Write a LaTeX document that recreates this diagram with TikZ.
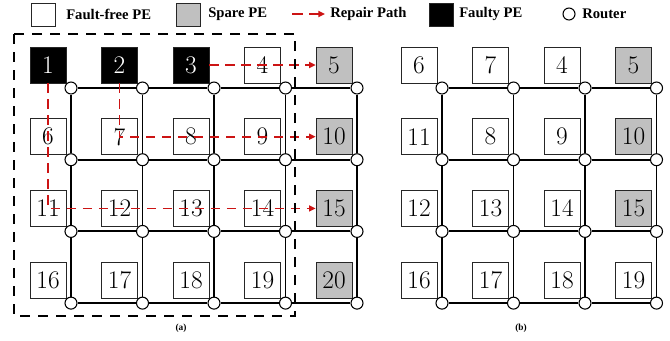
\documentclass[tikz,border=0pt]{standalone}
\usepackage{fontspec}
\newfontfamily\legendfont{Liberation Serif}
\usetikzlibrary{positioning,arrows.meta}
\pgfdeclarelayer{mesh}
\pgfsetlayers{mesh,main}
\definecolor{sparegray}{RGB}{192,192,192}
\definecolor{repairred}{RGB}{204,20,20}

\tikzset{
  pe/.style={draw=black!85, line width=0.5pt, fill=white, minimum size=27pt,
    inner sep=0pt, font=\fontsize{19}{19}\selectfont},
  spare/.style={pe, fill=sparegray},
  faulty/.style={pe, fill=black, text=white},
  router/.style={circle, draw, fill=white, line width=0.8pt, minimum size=9pt, inner sep=0pt},
  link/.style={line width=1.4pt},
  repair/.style={repairred, line width=1.2pt, dash pattern=on 7pt off 5pt,
    -{Triangle[length=5pt,width=4.5pt]}},
  faultframe/.style={line width=2.2pt, dash pattern=on 7.5pt off 6pt},
  legendtxt/.style={font=\legendfont\bfseries\fontsize{11}{11}\selectfont, anchor=west, inner sep=0pt},
  sublabel/.style={font=\legendfont\bfseries\fontsize{7}{7}\selectfont, inner sep=0pt}
}

\begin{document}
\begin{tikzpicture}[x=0.75pt, y=-0.75pt]
  \useasboundingbox (0,0) rectangle (670,340);

  % ── Legend ──
  \node[pe, minimum width=18pt, minimum height=17pt] (key-free) at (43,14.5) {};
  \node[legendtxt] (txt-free) at (66,14) {Fault-free PE};
  \node[spare, minimum width=18pt, minimum height=17pt] (key-spare) at (188.5,14.5) {};
  \node[legendtxt] (txt-spare) at (208,14) {Spare PE};
  \coordinate (key-repair-a) at (292,14);
  \coordinate (key-repair-b) at (325,14);
  \draw[repair, dash pattern=on 8pt off 5pt] (key-repair-a) -- (key-repair-b);
  \node[legendtxt] (txt-repair) at (330,14) {Repair Path};
  \node[faulty, minimum width=18pt, minimum height=17pt] (key-faulty) at (441,14.5) {};
  \node[legendtxt] (txt-faulty) at (459,14) {Faulty PE};
  \node[router] (key-router) at (569,14) {};
  \node[legendtxt] (txt-router) at (582,14) {Router};

  % ── (a) mesh with faulty PEs ──
  \foreach \r in {1,...,4} {
    \foreach \c in {1,...,5} {
      \pgfmathtruncatemacro\num{5*(\r-1)+\c}
      \ifnum\c=5 \def\kind{spare}\else\ifnum\num<4 \def\kind{faulty}\else\def\kind{pe}\fi\fi
      \node[\kind] (pa-\r-\c) at ({48+71.5*(\c-1)},{65+71.7*(\r-1)}) {\num};
      \node[router] (ra-\r-\c) at ({71+71.5*(\c-1)},{88+71.7*(\r-1)}) {};
    }
  }

  % ── (b) mesh after repair ──
  \foreach \r/\row in {1/{6,7,4,5},2/{11,8,9,10},3/{12,13,14,15},4/{16,17,18,19}} {
    \foreach \lab [count=\c] in \row {
      \def\kind{pe}
      \ifnum\c=4 \ifnum\r<4 \def\kind{spare}\fi\fi
      \node[\kind] (pb-\r-\c) at ({419+71.5*(\c-1)},{65+71.7*(\r-1)}) {\lab};
      \node[router] (rb-\r-\c) at ({442+71.5*(\c-1)},{88+71.7*(\r-1)}) {};
    }
  }

  % ── Links ──
  \begin{pgfonlayer}{mesh}
    \foreach \r in {1,...,4} {
      \foreach \c [evaluate=\c as \n using int(\c+1)] in {1,...,4}
        \draw[link] (ra-\r-\c) -- (ra-\r-\n);
      \foreach \c [evaluate=\c as \n using int(\c+1)] in {1,...,3}
        \draw[link] (rb-\r-\c) -- (rb-\r-\n);
    }
    \foreach \r [evaluate=\r as \n using int(\r+1)] in {1,...,3} {
      \foreach \c in {1,...,5}
        \draw[link] (ra-\r-\c) -- (ra-\n-\c);
      \foreach \c in {1,...,4}
        \draw[link] (rb-\r-\c) -- (rb-\n-\c);
    }
  \end{pgfonlayer}

  % ── Repair paths ──
  \draw[repair] (pa-1-3.east) -- (pa-1-5.west);
  \draw[repair] (pa-1-2.south) -- (pa-2-2.center) -- (pa-2-5.west);
  \draw[repair] (pa-1-1.south) -- (pa-3-1.center) -- (pa-3-5.west);

  % ── Faulty region ──
  \draw[faultframe] (14,34) rectangle (295,316);

  % ── Sub-figure labels ──
  \node[sublabel] (lbl-a) at (181,328) {(a)};
  \node[sublabel] (lbl-b) at (521,328) {(b)};
\end{tikzpicture}
\end{document}
